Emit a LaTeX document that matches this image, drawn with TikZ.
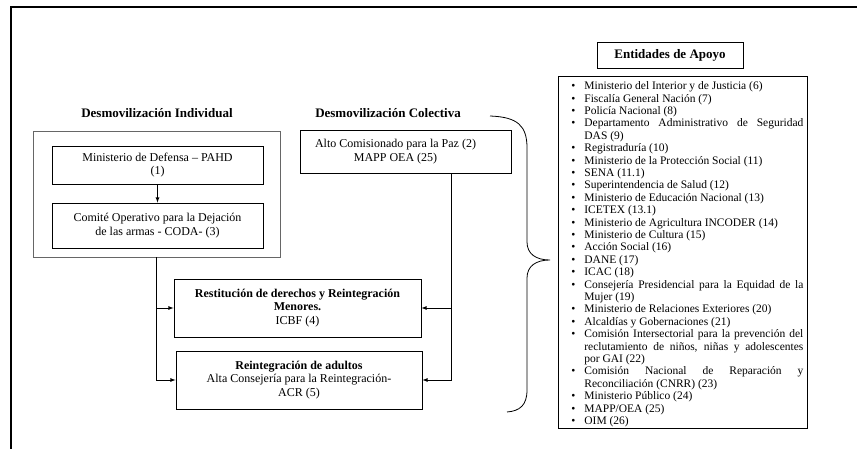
\documentclass[tikz,border=0pt]{standalone}
\usepackage{fontspec}
\setmainfont{Liberation Serif}
\usetikzlibrary{arrows}

\begin{document}
\begin{tikzpicture}[x=1pt,y=-1pt]
    \tikzset{caja/.style = {shape=rectangle, draw, thick, align=center, inner sep=2pt, font=\fontsize{12}{13.5}\selectfont}}
    \tikzset{titulo/.style = {font=\fontsize{13}{15}\selectfont\bfseries}}
    \tikzset{lista/.style = {shape=rectangle, draw, thick, align=justify, inner xsep=4pt, inner ysep=1pt, text width=241pt, font=\fontsize{11.5}{12.4}\selectfont}}
    \tikzset{flecha/.style = {draw, thick, -latex}}
    \useasboundingbox (0,0) rectangle (857,449);

    % marco
    \draw[line width=1.5pt] (857,7) -| (11,449);

    % titulos
    \node[titulo] (tind) at (157,113) {Desmovilización Individual};
    \node[titulo] (tcol) at (388,113) {Desmovilización Colectiva};

    % cajas
    \node[caja, thin, draw=black!60, minimum width=247, minimum height=126] (grupo) at (156.5,194) {};
    \node[caja, minimum width=211, minimum height=38] (mindef) at (157.5,165) {Ministerio de Defensa – PAHD\\(1)};
    \node[caja, minimum width=211, minimum height=45] (coda) at (157.5,225.5) {Comité Operativo para la Dejación\\de las armas - CODA- (3)};
    \node[caja, minimum width=211, minimum height=43] (alto) at (405.5,151.5) {Alto Comisionado para la Paz (2)\hspace*{20pt}\\MAPP OEA (25)\hspace*{20pt}};
    \node[caja, minimum width=247, minimum height=58] (icbf) at (297.5,308) {\textbf{Restitución de derechos y Reintegración}\\\textbf{Menores.}\\ICBF (4)};
    \node[caja, minimum width=246, minimum height=58] (acr) at (299,380) {\textbf{Reintegración de adultos}\\Alta Consejería para la Reintegración-\\ACR (5)};
    \node[caja, font=\fontsize{13}{15}\selectfont\bfseries, minimum width=146, minimum height=26] (cabecera) at (670,55) {Entidades de Apoyo};
    \node[lista, anchor=north west] (apoyo) at (558,76) {%
      \begin{list}{\textbullet}{\setlength\leftmargin{22pt}\setlength\labelsep{9pt}\setlength\itemsep{0pt}\setlength\parsep{0pt}\setlength\topsep{0pt}\setlength\partopsep{0pt}}
      \item Ministerio del Interior y de Justicia (6)
      \item Fiscalía General Nación (7)
      \item Policía Nacional (8)
      \item Departamento Administrativo de Seguridad\linebreak DAS (9)
      \item Registraduría (10)
      \item Ministerio de la Protección Social (11)
      \item SENA (11.1)
      \item Superintendencia de Salud (12)
      \item Ministerio de Educación Nacional (13)
      \item ICETEX (13.1)
      \item Ministerio de Agricultura INCODER (14)
      \item Ministerio de Cultura (15)
      \item Acción Social (16)
      \item DANE (17)
      \item ICAC (18)
      \item Consejería Presidencial para la Equidad de la\linebreak Mujer (19)
      \item Ministerio de Relaciones Exteriores (20)
      \item Alcaldías y Gobernaciones (21)
      \item Comisión Intersectorial para la prevención del\linebreak reclutamiento de niños, niñas y adolescentes\linebreak por GAI (22)
      \item Comisión Nacional de Reparación y\linebreak Reconciliación (CNRR) (23)
      \item Ministerio Público (24)
      \item MAPP/OEA (25)
      \item OIM (26)
      \end{list}\vspace*{12pt}};

    % conexiones
    \draw[flecha] (mindef) -- (coda);
    \draw[flecha] (grupo.south) |- (icbf.west);
    \draw[flecha] (grupo.south) |- (acr.west);
    \draw[flecha] ([xshift=-60]alto.south east) |- (icbf.east);
    \draw[flecha] ([xshift=-60]alto.south east) |- (acr.east);

    % llave
    \draw[thick] (490,116) .. controls (518,117) and (527,126) .. (527,148) -- (527,242)
        .. controls (527,254) and (536,260) .. (550,260) .. controls (536,260) and (527,266) .. (527,278)
        -- (527,390) .. controls (527,405) and (520,411) .. (507,412);
\end{tikzpicture}
\end{document}
